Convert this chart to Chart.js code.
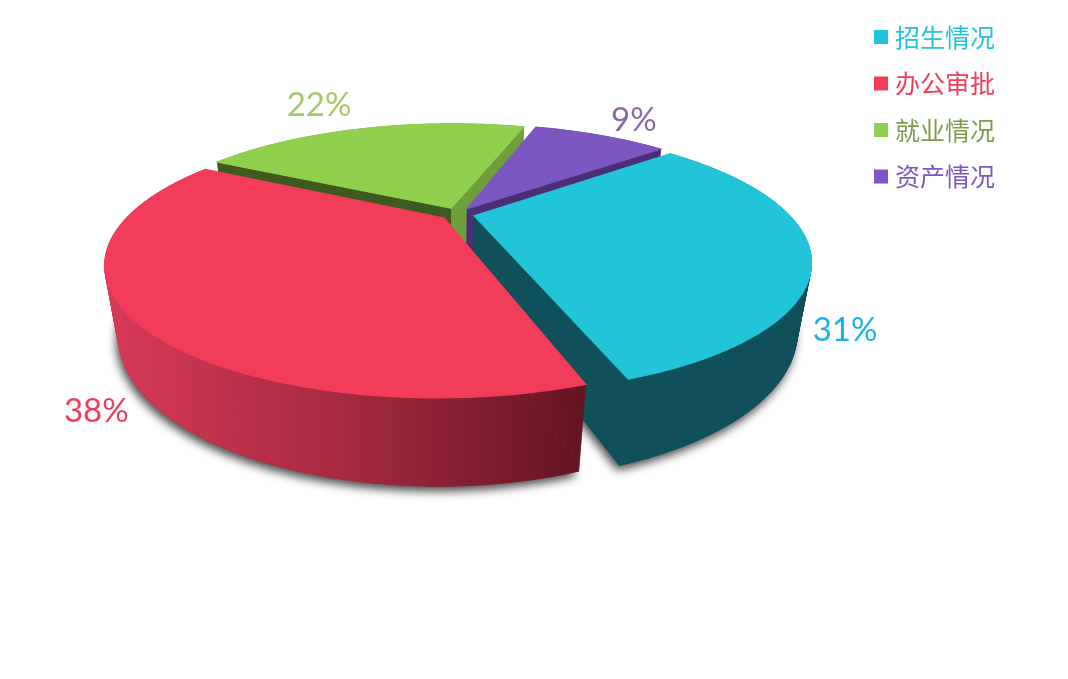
<!DOCTYPE html>
<html>
<head>
<meta charset="utf-8">
<title>pie</title>
<script src="https://cdn.jsdelivr.net/npm/chart.js@4"></script>
<style>
  html, body { margin: 0; padding: 0; background: #fff; }
  canvas { display: block; }
</style>
</head>
<body>
<canvas id="pieChart" width="1068" height="679"></canvas>
<script>
const categories = ["招生情况", "办公审批", "就业情况", "资产情况"];
const shares = [31, 38, 22, 9];

const topColors = ["#22c4da", "#f13c5a", "#91d04e", "#7d57c1"];
const faceColors = ["#0f505b", "#7a1a2c", "#6f9f3c", "#4a2f75"];
const stripColors = ["#0f505b", "#7a1a2c", "#3f5a1f", "#4a2f75"];
const legendTextColors = ["#22c4da", "#f13c5a", "#7f9d4c", "#7d57c1"];
const labelColors = ["#18b2ea", "#f13c5a", "#a6c96c", "#8a68a9"];
const labelShift = [[35, 80], [-33, 96], [-45, -23], [34, -15]];

// drawing order, back slices first, the red one sits in front of the cyan one
const paintOrder = [2, 3, 0, 1];

// camera for the tilted disc
const cam = { cx: 457.5, cy: 214, sx: 314, sy: 116, p: 0.335, drop: 0.0358, vx: 447, vy: 2100 };

function project(u, v, low) {
  const w = 1 + cam.p * v;
  let x = cam.cx + cam.sx * u / w;
  let y = cam.cy - cam.sy * v / w;
  if (low) {
    const t = cam.drop / (w + cam.drop);
    x += (cam.vx - x) * t;
    y += (cam.vy - y) * t;
  }
  return [x, y];
}

function slicePoints(el, low) {
  const d = el.options.offset / el.outerRadius;
  const mid = (el.startAngle + el.endAngle) / 2;
  const ou = d * Math.cos(mid), ov = -d * Math.sin(mid);
  const rim = [];
  const steps = Math.ceil((el.endAngle - el.startAngle) / 0.02);
  for (let i = 0; i <= steps; i++) {
    const a = el.startAngle + (el.endAngle - el.startAngle) * i / steps;
    rim.push(project(ou + Math.cos(a), ov - Math.sin(a), low));
  }
  return { apex: project(ou, ov, low), rim: rim };
}

function fillPoly(ctx, pts, fill) {
  ctx.beginPath();
  pts.forEach((p, i) => i ? ctx.lineTo(p[0], p[1]) : ctx.moveTo(p[0], p[1]));
  ctx.closePath();
  ctx.fillStyle = fill;
  ctx.fill();
}

function wallFill(ctx, i) {
  if (i === 1) {
    const g = ctx.createLinearGradient(105, 0, 580, 0);
    g.addColorStop(0, "#d93a56");
    g.addColorStop(0.5, "#a62a40");
    g.addColorStop(1, "#651422");
    return g;
  }
  return faceColors[i];
}

// outer wall as small quads, so the silhouette runs straight from top to bottom rim
function drawWall(ctx, top, low, fill) {
  ctx.save();
  ctx.strokeStyle = fill;
  ctx.lineWidth = 0.8;
  for (let k = 0; k < top.rim.length - 1; k++) {
    fillPoly(ctx, [top.rim[k], top.rim[k + 1], low.rim[k + 1], low.rim[k]], fill);
    ctx.stroke();
  }
  ctx.restore();
}

const pie3d = {
  id: "pie3d",
  beforeDatasetDraw(chart) {
    const ctx = chart.ctx;
    const arcs = chart.getDatasetMeta(0).data;
    paintOrder.forEach((i) => {
      const el = arcs[i];
      const top = slicePoints(el, false);
      const low = slicePoints(el, true);
      const last = top.rim.length - 1;

      // soft shadow comes from the lower disc only, so the top rim stays clean
      ctx.save();
      ctx.shadowColor = "rgba(0,0,0,0.7)";
      ctx.shadowBlur = 10;
      ctx.shadowOffsetX = -2;
      ctx.shadowOffsetY = 5;
      fillPoly(ctx, [low.apex].concat(low.rim), faceColors[i]);
      ctx.restore();

      drawWall(ctx, top, low, wallFill(ctx, i));
      if (i !== 1) {
        fillPoly(ctx, [top.apex, top.rim[0], low.rim[0], low.apex], i === 0 ? faceColors[i] : stripColors[i]);
        fillPoly(ctx, [top.apex, top.rim[last], low.rim[last], low.apex], i === 2 ? faceColors[i] : stripColors[i]);
      }
      // thin stroke hides the wall fringe along the back rim
      ctx.save();
      ctx.strokeStyle = topColors[i];
      ctx.lineWidth = 1.2;
      fillPoly(ctx, [top.apex].concat(top.rim), topColors[i]);
      ctx.stroke();
      ctx.restore();
    });
    return false;
  },
  afterDatasetsDraw(chart) {
    const ctx = chart.ctx;
    const arcs = chart.getDatasetMeta(0).data;
    ctx.save();
    ctx.font = "33px Lato";
    ctx.textAlign = "center";
    ctx.textBaseline = "middle";
    arcs.forEach((el, i) => {
      const mid = (el.startAngle + el.endAngle) / 2;
      const d = 1 + el.options.offset / el.outerRadius;
      const p = project(d * Math.cos(mid), -d * Math.sin(mid), false);
      ctx.fillStyle = labelColors[i];
      ctx.fillText(shares[i] + "%", p[0] + labelShift[i][0], p[1] + labelShift[i][1]);
    });
    ctx.restore();
  }
};

new Chart(document.getElementById("pieChart"), {
  type: "pie",
  data: {
    labels: categories,
    datasets: [{
      data: shares,
      backgroundColor: topColors,
      borderWidth: 0,
      offset: 18
    }]
  },
  options: {
    responsive: false,
    animation: false,
    rotation: 50,
    layout: { padding: { top: 3, right: 63 } },
    plugins: {
      tooltip: { enabled: false },
      legend: {
        position: "right",
        align: "start",
        labels: {
          usePointStyle: true,
          pointStyle: "rect",
          boxWidth: 3,
          boxHeight: 14,
          padding: 21.5,
          font: { family: "'Noto Sans CJK SC'", size: 25 },
          generateLabels(chart) {
            const items = Chart.overrides.pie.plugins.legend.labels.generateLabels(chart);
            items.forEach((item, i) => {
              item.fontColor = legendTextColors[i];
              item.lineWidth = 0;
              item.pointStyle = "rect";
            });
            return items;
          }
        }
      }
    }
  },
  plugins: [pie3d]
});
</script>
</body>
</html>
